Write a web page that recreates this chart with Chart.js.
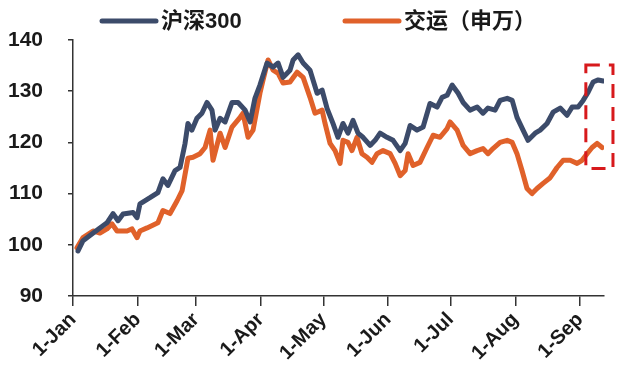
<!DOCTYPE html>
<html>
<head>
<meta charset="utf-8">
<script src="https://cdn.jsdelivr.net/npm/chart.js@4/dist/chart.umd.min.js"></script>
<style>
  html, body { margin: 0; padding: 0; background: #fff; }
  #wrap { width: 617px; height: 374px; }
</style>
</head>
<body>
<div id="wrap"><canvas id="chart" width="617" height="374"></canvas></div>
<script>
// day of year (1-Jan = 0) and index level, base 100
const hs300Days = [2.4, 4.8, 8.1, 12.9, 16.3, 19.2, 21.6, 24, 28.8, 30.7, 32.1, 36.9, 40.7, 43.1, 45.5, 48.9, 51.3, 53.7, 55.1, 57, 59.4, 61.8, 64.2, 66.6, 68.1, 70.5, 72.9, 76.2, 79.1, 82.5, 84.9, 87.2, 89.6, 93, 95.9, 98.3, 100.7, 104, 105.5, 107.9, 110.3, 113.6, 117, 119.4, 121.8, 124.6, 127, 129.4, 131.8, 134.2, 136.6, 139, 142.4, 144.8, 147.2, 150.5, 153.4, 156.8, 159.2, 161.6, 164.9, 167.8, 171.1, 174.5, 176.9, 179.3, 181.7, 184.6, 187, 190.3, 193.7, 196.5, 198.9, 202.3, 204.7, 208.1, 210.5, 212.8, 215.7, 218.1, 221.5, 223.9, 227.2, 230.1, 233.5, 236.8, 239.2, 242.1, 244.5, 246.9, 249.3, 251.7, 254.1];
const hs300Vals = [98.8, 100.8, 101.8, 103.3, 104.3, 106.1, 104.7, 106, 106.3, 105.3, 108, 109.2, 110.2, 112.9, 111.6, 114.5, 115.1, 119.8, 123.7, 122.4, 124.7, 125.7, 127.8, 126.3, 122.4, 124.7, 124, 127.8, 127.8, 126.3, 124, 128.6, 131.2, 135.5, 134.7, 135.5, 132.7, 134.1, 136.1, 137.1, 135.5, 134.1, 129.6, 130.2, 126.6, 123.7, 121, 123.7, 121.8, 124.3, 121.8, 121, 119.4, 120.4, 121.8, 121, 120.4, 118.4, 119.8, 123.3, 122.4, 123, 127.6, 126.9, 128.8, 129.2, 131.2, 129.6, 127.8, 126.3, 126.9, 125.7, 126.7, 126.3, 128.2, 128.6, 128.2, 124.9, 122.4, 120.4, 121.8, 122.4, 123.7, 125.9, 126.7, 125.3, 126.9, 126.9, 128.2, 129.8, 131.8, 132.2, 132];

const jiaoyunDays = [1.9, 4.8, 9.6, 12.9, 16.3, 18.7, 21.1, 25.9, 28.3, 30.7, 32.1, 35.5, 40.7, 43.1, 46.5, 49.9, 52.3, 55.1, 57.5, 60.9, 63.3, 65.7, 67.1, 70.5, 72.9, 76.2, 80.1, 81.5, 83.9, 86.3, 89.6, 91.1, 93.5, 95.9, 98.3, 100.7, 104, 107.4, 110.3, 113.6, 116, 119.4, 120.8, 123.2, 125.6, 128, 129.4, 131.8, 133.7, 136.1, 138.5, 140.9, 143.3, 145.7, 148.6, 152, 154.4, 156.8, 159.2, 160.6, 163, 166.3, 169.7, 172.6, 175.9, 179.3, 180.7, 184.1, 187, 190.3, 193.7, 196.5, 198.9, 201.3, 204.7, 208.1, 210.5, 212.8, 215.2, 217.6, 220, 222.4, 225.3, 228.7, 232, 234.9, 238.3, 241.6, 244, 246.4, 248.8, 251.2, 253.6];
const jiaoyunVals = [99.4, 101.4, 102.7, 102.3, 103.1, 104.1, 102.7, 102.7, 103.1, 101.4, 102.7, 103.3, 104.3, 106.7, 106.1, 108.6, 110.6, 116.9, 117.1, 117.8, 119, 122.4, 116.5, 121.8, 119, 123, 124.9, 125.7, 121, 122.4, 129.6, 132.2, 136.1, 134.1, 133.5, 131.6, 131.8, 133.7, 132.7, 128.8, 125.7, 126.3, 123.7, 119.8, 118.4, 115.9, 120.4, 120, 118.4, 121, 117.8, 117.1, 116.1, 117.8, 118.4, 117.8, 115.9, 113.5, 114.5, 117.8, 115.5, 116.1, 119, 121.4, 121, 122.7, 124, 122.4, 119.4, 117.8, 118.4, 118.8, 117.8, 118.8, 120, 120.4, 120, 117.8, 114.5, 111, 110, 111, 112, 113.1, 115.1, 116.5, 116.5, 115.9, 116.5, 117.8, 119, 119.8, 119];

// month starts on the date axis
const monthDays = [0, 31, 59, 90, 120, 151, 181, 212, 243];
const monthLabels = ['1-Jan', '1-Feb', '1-Mar', '1-Apr', '1-May', '1-Jun', '1-Jul', '1-Aug', '1-Sep'];

const seriesNames = ['沪深300', '交运（申万）'];
const seriesColors = ['#3c4b6a', '#e0612a'];

// highlighted latest stretch: [day from, day to, value low, value high]
const highlightBox = [245.8, 258.8, 114.9, 135.1];

const FONT = '"Liberation Sans", Arial, "Noto Sans CJK SC", sans-serif';

const toPoints = (xs, ys) => xs.map((x, i) => ({ x: x, y: ys[i] }));

// legend drawn across the top (line sample + label)
const topLegend = {
    id: 'topLegend',
    afterDraw(chart, args, opts) {
        const ctx = chart.ctx;
        ctx.save();
        chart.data.datasets.forEach((ds, i) => {
            const x0 = opts.starts[i];
            ctx.strokeStyle = ds.borderColor;
            ctx.lineWidth = 5;
            ctx.lineCap = 'round';
            ctx.beginPath();
            ctx.moveTo(x0, opts.y);
            ctx.lineTo(x0 + opts.lineWidth, opts.y);
            ctx.stroke();
            ctx.fillStyle = '#1a1a1a';
            ctx.font = 'bold 22px ' + FONT;
            ctx.textBaseline = 'middle';
            ctx.textAlign = 'left';
            ctx.fillText(ds.label, x0 + opts.lineWidth + 5, opts.y + 1);
        });
        ctx.restore();
    }
};

// red dashed frame around the last points
const frameBox = {
    id: 'frameBox',
    afterDraw(chart) {
        const x = chart.scales.x, y = chart.scales.y;
        const l = x.getPixelForValue(highlightBox[0]);
        const r = x.getPixelForValue(highlightBox[1]);
        const b = y.getPixelForValue(highlightBox[2]);
        const t = y.getPixelForValue(highlightBox[3]);
        const ctx = chart.ctx;
        ctx.save();
        ctx.strokeStyle = '#d7191c';
        ctx.lineWidth = 3;
        ctx.setLineDash([14, 9]);
        ctx.strokeRect(l, t, r - l, b - t);
        ctx.restore();
    }
};

new Chart(document.getElementById('chart'), {
    type: 'line',
    data: {
        datasets: [
            {
                label: seriesNames[0],
                data: toPoints(hs300Days, hs300Vals),
                borderColor: seriesColors[0],
                backgroundColor: seriesColors[0]
            },
            {
                label: seriesNames[1],
                data: toPoints(jiaoyunDays, jiaoyunVals),
                borderColor: seriesColors[1],
                backgroundColor: seriesColors[1]
            }
        ]
    },
    options: {
        responsive: false,
        animation: false,
        layout: { padding: { top: 40, right: 13, left: 0, bottom: 0 } },
        elements: {
            line: { borderWidth: 5, tension: 0, borderJoinStyle: 'round', borderCapStyle: 'round' },
            point: { radius: 0 }
        },
        plugins: {
            legend: { display: false },
            tooltip: { enabled: false },
            topLegend: { starts: [102, 345], lineWidth: 54, y: 21 }
        },
        scales: {
            x: {
                type: 'linear',
                min: 0,
                max: 254.5,
                afterFit: s => { s.height = 78; },
                afterBuildTicks: s => { s.ticks = monthDays.map(v => ({ value: v })); },
                border: { display: true, color: '#333', width: 1.5 },
                grid: { drawOnChartArea: false, drawTicks: true, tickLength: 10, color: '#333', lineWidth: 1.5 },
                ticks: {
                    autoSkip: false,
                    maxRotation: 45,
                    minRotation: 45,
                    labelOffset: 0,
                    padding: 2,
                    color: '#1a1a1a',
                    font: { family: FONT, size: 20, weight: 'bold' },
                    callback: v => monthLabels[monthDays.indexOf(v)]
                }
            },
            y: {
                min: 90,
                max: 140,
                afterFit: s => { s.width = 73; },
                border: { display: true, color: '#333', width: 1.5 },
                grid: { drawOnChartArea: false, drawTicks: true, tickLength: 5, color: '#333', lineWidth: 1.5 },
                ticks: {
                    stepSize: 10,
                    padding: 25,
                    color: '#1a1a1a',
                    font: { family: FONT, size: 21, weight: 'bold' }
                }
            }
        }
    },
    plugins: [topLegend, frameBox]
});
</script>
</body>
</html>
